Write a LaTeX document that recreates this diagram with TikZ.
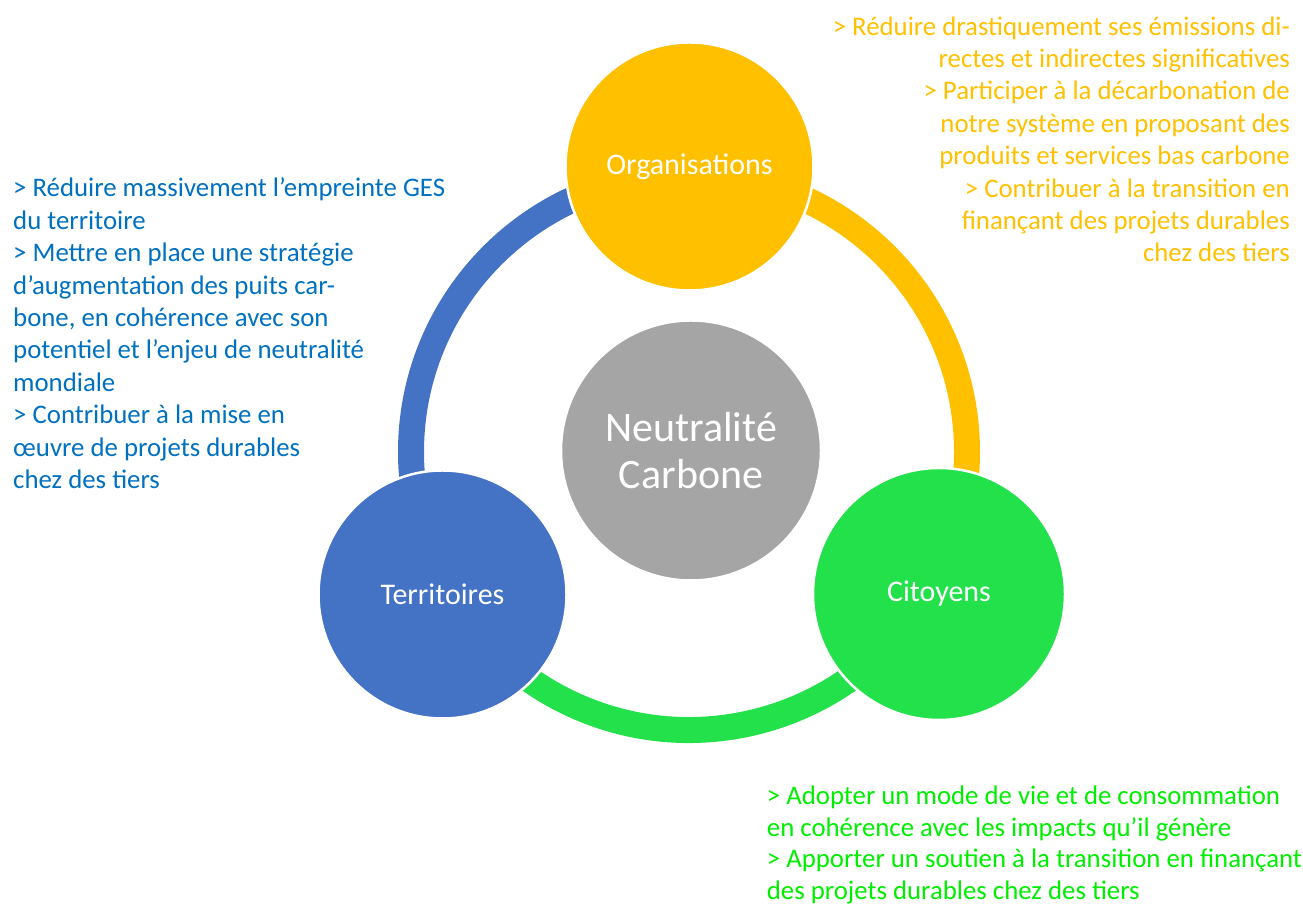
\documentclass[tikz,border=0pt]{standalone}
\usepackage{fontspec}
\usetikzlibrary{calc}
\setmainfont{Carlito}
\definecolor{orgyellow}{HTML}{FFC000}
\definecolor{terblue}{HTML}{4472C4}
\definecolor{citgreen}{RGB}{35,225,75}
\definecolor{neutgray}{HTML}{A5A5A5}
\definecolor{txtblue}{HTML}{0070C0}
\definecolor{txtyellow}{HTML}{FFC000}
\definecolor{txtgreen}{RGB}{0,238,0}
\begin{document}
\begin{tikzpicture}[x=1pt,y=1pt,
  bubble/.style={circle, draw=white, line width=2.5pt, inner sep=0pt,
    text=white, font=\fontsize{30}{34}\selectfont},
  ringarc/.style={line width=26pt},
  para/.style={inner sep=0pt, font=\fontsize{26.8}{32.4}\selectfont}
]
\useasboundingbox (0,0) rectangle (1303,904);

% centre of the ring joining the three actors
\coordinate (ring) at (689,452);

% ring segments, drawn first so the circles sit on top
\draw[ringarc, terblue]  ($(ring)+(90:278)$)  arc[start angle=90,  end angle=210, radius=278];
\draw[ringarc, orgyellow] ($(ring)+(90:278)$) arc[start angle=90,  end angle=-30, radius=278];
\draw[ringarc, citgreen] ($(ring)+(-30:278)$) arc[start angle=-30, end angle=-150, radius=278];

% actors
\node[bubble, fill=orgyellow, minimum size=248pt] (org)  at (689.5,737.5) {Organisations};
\node[bubble, fill=terblue,   minimum size=248pt] (terr) at (442.5,309.5) {Territoires};
\node[bubble, fill=citgreen,  minimum size=252pt] (cit)  at (939,310)     {Citoyens};
\node[bubble, fill=neutgray,  minimum size=260pt, align=center,
      font=\fontsize{42}{47}\selectfont] (neut) at (691,453.5) {Neutralité\\Carbone};

% commitments of each actor
\node[para, text=txtblue, align=left, anchor=north west] (terrtxt) at (13,730) {\strut
> Réduire massivement l’empreinte GES\\
du territoire\\
> Mettre en place une stratégie\\
d’augmentation des puits car-\\
bone, en cohérence avec son\\
potentiel et l’enjeu de neutralité\\
mondiale\\
> Contribuer à la mise en\\
œuvre de projets durables\\
chez des tiers};

\node[para, text=txtyellow, align=right, anchor=north east] (orgtxt) at (1290,891.7) {\strut
> Réduire drastiquement ses émissions di-\\
rectes et indirectes significatives\\
> Participer à la décarbonation de\\
notre système en proposant des\\
produits et services bas carbone\\
> Contribuer à la transition en\\
finançant des projets durables\\
chez des tiers};

\node[para, text=txtgreen, align=left, anchor=north west,
      font=\fontsize{26.8}{31.7}\selectfont] (cittxt) at (766.7,122) {\strut
> Adopter un mode de vie et de consommation\\
en cohérence avec les impacts qu’il génère\\
> Apporter un soutien à la transition en finançant\\
des projets durables chez des tiers};
\end{tikzpicture}
\end{document}
